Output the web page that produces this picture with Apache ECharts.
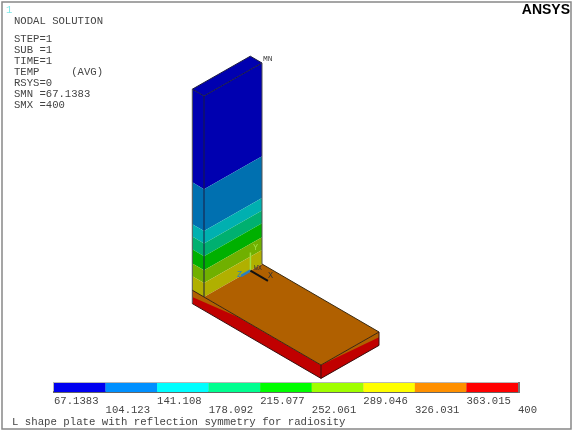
<!DOCTYPE html>
<html>
<head>
<meta charset="utf-8">
<style>html,body{margin:0;padding:0;background:#fff}#main{width:575px;height:433px}</style>
<script src="https://cdn.jsdelivr.net/npm/echarts@6/dist/echarts.min.js"></script>
</head>
<body>
<div id="main"></div>
<script>
// contour legend
var tickLabels = ['67.1383', '104.123', '141.108', '178.092', '215.077', '252.061', '289.046', '326.031', '363.015', '400'];
var legendColors = ['#0000f0', '#0090ff', '#00ffff', '#00ff90', '#00ff00', '#a0ff00', '#ffff00', '#ff9000', '#ff0000'];

// wall: contour heights from the top of the wall down to the slab, shaded colour per band
var wallLevels = [3, 1.61, 0.985, 0.8, 0.61, 0.4, 0.21, 0];
var wallColors = ['#0000b0', '#0070b0', '#00b0b0', '#00b070', '#00b000', '#70b000', '#b0b000'];
var slabColor = '#b06000';
var sideColor = '#c00000';

// model size
var wallThick = 0.2, slabThick = 0.2, slabLength = 2, plateWidth = 1;
// where the orange wedge on the slab sides runs out
var wedgeEnd = 0.6, wedgeDrop = 0.1, endDrop = 0.08;

var infoLines = ['STEP=1', 'SUB =1', 'TIME=1', 'TEMP     (AVG)', 'RSYS=0', 'SMN =67.1383', 'SMX =400'];
var infoRows = [39, 50, 61, 72, 83, 94, 105];

// isometric view of the model, result is in the pixel axes of the first grid
function project(x, y, z) {
    return [204 + x * 58.5 + z * 58, 297 + x * 34 - z * 33 - y * 67];
}

var T = wallThick, L = slabLength, W = plateWidth, S = slabThick;
var faces = [];
wallColors.forEach(function(color, i) {
    var a = wallLevels[i], b = wallLevels[i + 1];
    faces.push({ color: color, pts: [[-T, a, 0], [0, a, 0], [0, b, 0], [-T, b, 0]] });
    faces.push({ color: color, pts: [[0, a, 0], [0, a, W], [0, b, W], [0, b, 0]] });
});
faces.push({ color: wallColors[0], pts: [[-T, 3, 0], [0, 3, 0], [0, 3, W], [-T, 3, W]] });
faces.push({ color: slabColor, pts: [[0, 0, 0], [L, 0, 0], [L, 0, W], [0, 0, W]] });
faces.push({ color: sideColor, pts: [[-T, 0, 0], [L, 0, 0], [L, -S, 0], [-T, -S, 0]] });
faces.push({ color: sideColor, pts: [[L, 0, 0], [L, 0, W], [L, -S, W], [L, -S, 0]] });
faces.push({ color: slabColor, pts: [[-T, 0, 0], [wedgeEnd, 0, 0], [-T, -wedgeDrop, 0]] });
faces.push({ color: slabColor, pts: [[L, 0, 0], [L, 0, W], [L, -endDrop, W]] });

var edges = [
    { color: '#1a1a40', pts: [[-T, 3, 0], [0, 3, 0], [0, 3, W], [-T, 3, W], [-T, 3, 0]] },
    { color: '#1a1a40', pts: [[0, 3, 0], [0, 0, 0]] },
    { color: '#555555', pts: [[-T, 3, 0], [-T, -S, 0]] },
    { color: '#555555', pts: [[0, 3, W], [0, 0, W]] },
    { color: '#3a2a10', pts: [[0, 0, W], [L, 0, W], [L, 0, 0], [0, 0, 0], [-T, 0, 0]] },
    { color: '#3a1010', pts: [[L, 0, 0], [L, -S, 0], [L, -S, W], [L, 0, W]] },
    { color: '#3a1010', pts: [[-T, -S, 0], [L, -S, 0]] }
];

// triad at the global origin
var triad = [
    { color: '#a0e040', width: 1.5, pts: [[0, 0, 0.8], [0, 0.27, 0.8]] },
    { color: '#2a7fc0', width: 2.5, pts: [[0, 0, 0.8], [0, 0, 0.64]] },
    { color: '#111111', width: 2, pts: [[0, 0, 0.8], [0.3, 0, 0.8]] }
];

function poly(pts, color) {
    return {
        type: 'polygon',
        shape: { points: pts.map(function(p) { var s = project(p[0], p[1], p[2]); return [s[0], s[1]]; }) },
        style: { fill: color }
    };
}

function toAxis(api, pts) {
    return pts.map(function(p) { return api.coord(project(p[0], p[1], p[2])); });
}

var monoFont = '"Liberation Mono", monospace';

function label(text, x, y, size, color) {
    return {
        type: 'text', x: x, y: y, z: 10,
        style: { text: text, fill: color || '#444', font: (size || 10.6) + 'px ' + monoFont, textVerticalAlign: 'middle' }
    };
}

var graphics = [
    { type: 'rect', shape: { x: 2, y: 2, width: 569, height: 427 }, style: { fill: 'none', stroke: '#888', lineWidth: 1.5 } },
    { type: 'rect', z: 1, shape: { x: 53, y: 382, width: 467, height: 11 }, style: { fill: '#b8b8b8' } },
    { type: 'rect', z: 1, shape: { x: 53, y: 391, width: 467, height: 2 }, style: { fill: '#666' } },
    { type: 'rect', z: 1, shape: { x: 518, y: 382, width: 2, height: 11 }, style: { fill: '#777' } },
    label('1', 6, 10, 10.6, '#80e8e8'),
    label('NODAL SOLUTION', 14, 21),
    label('MN', 263, 59, 8),
    label('Y', 253, 248, 8.5, '#a0e040'),
    label('Z', 237, 275, 8.5, '#2a7fc0'),
    label('X', 268, 276, 8.5, '#333'),
    label('WX', 254, 268, 6.5, '#333'),
    label('L shape plate with reflection symmetry for radiosity', 12, 422, 10.7),
    {
        type: 'text', right: 5, top: 3, z: 10,
        style: { text: 'ANSYS', fill: '#000', font: 'bold 14px "Liberation Sans", sans-serif' }
    }
];
infoLines.forEach(function(line, i) {
    graphics.push(label(line, 14, infoRows[i]));
});

var myChart = echarts.init(document.getElementById('main'), null, { renderer: 'canvas' });

var option = {
    animation: false,
    backgroundColor: '#ffffff',
    grid: [
        { left: 0, top: 0, width: 575, height: 433 },
        { left: 54, top: 383, width: 464, height: 9 }
    ],
    xAxis: [
        { type: 'value', min: 0, max: 575, show: false },
        {
            type: 'value', gridIndex: 1, min: 0, max: tickLabels.length - 1, interval: 1,
            axisLine: { show: false }, axisTick: { show: false }, splitLine: { show: false },
            axisLabel: {
                show: true, margin: 5, align: 'left', verticalAlign: 'top', hideOverlap: false,
                showMinLabel: true, showMaxLabel: true,
                color: '#444', fontFamily: 'Liberation Mono', fontSize: 10.6, lineHeight: 8.5,
                formatter: function(v) {
                    return (v % 2 ? '\n' : '') + tickLabels[v];
                }
            }
        }
    ],
    yAxis: [
        { type: 'value', min: 0, max: 433, inverse: true, show: false },
        { type: 'value', gridIndex: 1, min: 0, max: 1, show: false }
    ],
    graphic: graphics,
    series: [
        {
            type: 'custom', xAxisIndex: 0, yAxisIndex: 0, clip: false, silent: true,
            coordinateSystem: 'cartesian2d',
            data: faces.map(function(f, i) { return [i]; }),
            renderItem: function(params, api) {
                var f = faces[api.value(0)];
                return {
                    type: 'polygon',
                    shape: { points: toAxis(api, f.pts) },
                    style: { fill: f.color }
                };
            }
        },
        {
            type: 'custom', xAxisIndex: 0, yAxisIndex: 0, clip: false, silent: true, z: 3,
            data: edges.concat(triad).map(function(e, i) { return [i]; }),
            renderItem: function(params, api) {
                var e = edges.concat(triad)[api.value(0)];
                return {
                    type: 'polyline',
                    shape: { points: toAxis(api, e.pts) },
                    style: { fill: 'none', stroke: e.color, lineWidth: e.width || 1 }
                };
            }
        },
        {
            type: 'custom', xAxisIndex: 1, yAxisIndex: 1, silent: true, z: 3,
            data: legendColors.map(function(c, i) { return [i, i + 1]; }),
            renderItem: function(params, api) {
                var a = api.coord([api.value(0), 1]);
                var b = api.coord([api.value(1), 0]);
                return {
                    type: 'rect',
                    shape: { x: a[0], y: a[1], width: b[0] - a[0], height: b[1] - a[1] },
                    style: { fill: legendColors[params.dataIndex] }
                };
            }
        }
    ]
};

myChart.setOption(option);
</script>
</body>
</html>
